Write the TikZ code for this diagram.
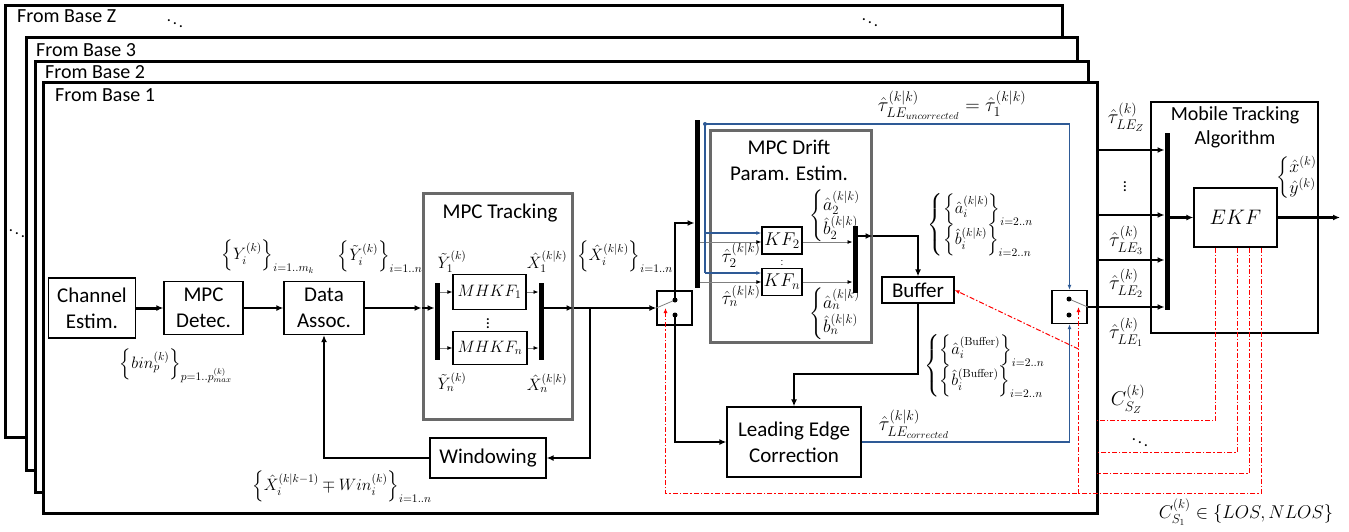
\RequirePackage{fix-cm}
\documentclass[tikz,border=0pt]{standalone}
\usepackage{amsmath}
\usepackage[no-math]{fontspec}
\setmainfont{Carlito}
\usetikzlibrary{arrows.meta}
\definecolor{bluelink}{RGB}{46,90,150}
\definecolor{grpgray}{RGB}{105,105,105}
\newcommand{\framefont}{\fontsize{20}{24}\selectfont}
\newcommand{\blockfont}{\fontsize{21}{26}\selectfont}
\newcommand{\lblfont}{\fontsize{16.5}{19}\selectfont}
\newcommand{\taufont}{\fontsize{20}{23}\selectfont}

\begin{document}
\begin{tikzpicture}[x=1pt, y=-1pt, >={Latex[length=7pt,width=6pt]},
		frame/.style={draw, line width=3pt, fill=white},
		block/.style={draw, line width=1.3pt, fill=white, align=center, font=\blockfont, inner sep=0pt},
		group/.style={draw=grpgray, line width=3pt, inner sep=0pt},
		switchbox/.style={draw, line width=1.3pt, fill=white, minimum width=35pt, minimum height=34pt, inner sep=0pt},
		bus/.style={line width=5pt},
		conn/.style={->, line width=2pt},
		heavy/.style={->, line width=3pt},
		thinarr/.style={-{Latex[length=5pt,width=4pt,color=black]}, line width=0.8pt, draw=gray},
		lever/.style={line width=0.8pt, draw=gray},
		blueline/.style={line width=1.1pt, draw=bluelink},
		bluearr/.style={-{Latex[length=5pt,width=4pt]}, line width=1.1pt, draw=bluelink},
		redline/.style={line width=1pt, draw=red, dash pattern=on 5pt off 2pt on 1.5pt off 2pt},
		redarr/.style={redline, -{Latex[length=5pt,width=4pt]}},
		lbl/.style={font=\lblfont, inner sep=0pt},
		taulbl/.style={font=\taufont, inner sep=0pt}]
		\useasboundingbox (0,0) rectangle (1349,531);
		% stacked frames of the bases
		\draw[frame] (5,5) rectangle (1062,437);
		\draw[frame] (26,37) rectangle (1077,470);
		\draw[frame] (35,61) rectangle (1088,492);
		\draw[frame] (43,82) rectangle (1097,513);
		\node[anchor=west, font=\framefont, inner sep=0pt] (baseZ) at (17,16) {From Base Z};
		\node[anchor=west, font=\framefont, inner sep=0pt] (base3) at (36,50) {From Base 3};
		\node[anchor=west, font=\framefont, inner sep=0pt] (base2) at (45,72) {From Base 2};
		\node[anchor=west, font=\framefont, inner sep=0pt] (base1) at (55,95) {From Base 1};
		\node[lbl] (ddotsA) at (175,21) {$\ddots$};
		\node[lbl] (ddotsB) at (870,20) {$\ddots$};
		\node[lbl] (ddotsC) at (17,231) {$\ddots$};
		%
		\node[block, minimum width=87pt, minimum height=60pt] (chan) at (92,308) {Channel\\Estim.};
		\node[block, minimum width=79pt, minimum height=53pt] (detec) at (203.5,308) {MPC\\Detec.};
		\node[block, minimum width=80pt, minimum height=53pt] (assoc) at (324,308) {Data\\Assoc.};
		\node[block, minimum width=116pt, minimum height=40pt] (win) at (488,458) {Windowing};
		%
		\node[group, minimum width=149pt, minimum height=226pt] (trackgrp) at (497.5,306) {};
		\node[font=\blockfont, inner sep=0pt] (tracktitle) at (500,213) {MPC Tracking};
		\node[block, minimum width=73pt, minimum height=35pt, font=\fontsize{16.5}{20}\selectfont] (mhkf1) at (489.5,292) {$MHKF_1$};
		\node[block, minimum width=74pt, minimum height=33pt, font=\fontsize{16.5}{20}\selectfont] (mhkfn) at (490,348) {$MHKF_n$};
		\node[lbl] (vdotsA) at (488,321) {$\vdots$};
		\coordinate (busAtop) at (437,283);
		\coordinate (busAbot) at (437,360);
		\coordinate (busBtop) at (541,283);
		\coordinate (busBbot) at (541,360);
		\coordinate (busBout) at (541,308);
		\coordinate (winbranch) at (590,308);
		%
		\node[switchbox] (sw1) at (674.5,308) {};
		\coordinate (sw1up) at (675,300);
		\coordinate (sw1dn) at (675,315);
		\coordinate (busCtop) at (697,120);
		\coordinate (busCbot) at (697,288);
		\coordinate (busCin) at (697,223);
		%
		\node[group, minimum width=161pt, minimum height=212pt] (driftgrp) at (790.5,236) {};
		\node[font=\blockfont, align=center, inner sep=0pt] (drifttitle) at (789,160) {MPC Drift\\Param. Estim.};
		\node[block, minimum width=40pt, minimum height=27pt, font=\fontsize{18.5}{22}\selectfont] (kf2) at (782,240.5) {$KF_2$};
		\node[block, minimum width=40pt, minimum height=27pt, font=\fontsize{18.5}{22}\selectfont] (kfn) at (782,282) {$KF_n$};
		\node[inner sep=0pt, font=\fontsize{9}{10}\selectfont] (vdotsB) at (782,262) {$\vdots$};
		\coordinate (busDtop) at (855,226);
		\coordinate (busDbot) at (855,293);
		\coordinate (busDout) at (855,236);
		\coordinate (bluetop) at (705,124);
		%
		\node[block, minimum width=72pt, minimum height=26pt] (buffer) at (918,290) {Buffer};
		\node[block, minimum width=134pt, minimum height=70pt] (lec) at (794,442) {Leading Edge\\Correction};
		\node[switchbox, minimum height=33pt] (sw2) at (1069.5,307) {};
		\coordinate (sw2up) at (1069,299);
		\coordinate (sw2dn) at (1069,315);
		%
		\node[block, minimum width=167pt, minimum height=231pt] (mobile) at (1234.5,217.5) {};
		\node[font=\fontsize{20}{24}\selectfont, align=center, inner sep=0pt] (mobiletitle) at (1235,127) {Mobile Tracking\\Algorithm};
		\node[block, minimum width=83pt, minimum height=59pt, font=\fontsize{21}{26}\selectfont] (ekf) at (1235.5,217.5) {$EKF$};
		\coordinate (busEtop) at (1167,133);
		\coordinate (busEbot) at (1167,310);
		\coordinate (inZ) at (1097,150);
		\coordinate (in3) at (1097,215);
		\coordinate (in2) at (1097,260);
		\coordinate (estout) at (1340,217.5);
		\coordinate (redZ) at (1097,420.5);
		\coordinate (red3) at (1097,452.5);
		\coordinate (red2) at (1097,473.5);
		\coordinate (redbot) at (665.5,493.5);
		\coordinate (redjoin) at (1078.5,493.5);
		\coordinate (redbuf) at (1078.5,349);
		%
		\node[lbl] (lblY) at (268,257) {$\left\{Y_i^{(k)}\right\}_{i=1..m_k}$};
		\node[lbl] (lblYt) at (380,257) {$\left\{\tilde{Y}_i^{(k)}\right\}_{i=1..n}$};
		\node[lbl] (lblbin) at (176,366) {$\left\{bin_p^{(k)}\right\}_{p=1..p_{max}^{(k)}}$};
		\node[lbl] (lblwin) at (342,487) {$\left\{\hat{X}_i^{(k|k-1)} \mp Win_i^{(k)}\right\}_{i=1..n}$};
		\node[lbl] (lblXh) at (625,257) {$\left\{\hat{X}_i^{(k|k)}\right\}_{i=1..n}$};
		\node[lbl] (lblY1) at (452,262) {$\tilde{Y}_1^{(k)}$};
		\node[lbl] (lblYn) at (452,382) {$\tilde{Y}_n^{(k)}$};
		\node[lbl] (lblX1) at (547,262) {$\hat{X}_1^{(k|k)}$};
		\node[lbl] (lblXn) at (547,383) {$\hat{X}_n^{(k|k)}$};
		\node[taulbl, font=\fontsize{19}{22}\selectfont] (lbltau2) at (741,255) {$\hat{\tau}_2^{(k|k)}$};
		\node[taulbl, font=\fontsize{19}{22}\selectfont] (lbltaun) at (741,296) {$\hat{\tau}_n^{(k|k)}$};
		\node[taulbl, font=\fontsize{18}{20}\selectfont] (lblab2) at (835,216) {$\left\{\begin{array}{@{}l@{}}\hat{a}_2^{(k|k)}\\ \hat{b}_2^{(k|k)}\end{array}\right.$};
		\node[taulbl, font=\fontsize{18}{20}\selectfont] (lblabn) at (835,314) {$\left\{\begin{array}{@{}l@{}}\hat{a}_n^{(k|k)}\\ \hat{b}_n^{(k|k)}\end{array}\right.$};
		\node[taulbl] (lbluncorr) at (952,105) {$\hat{\tau}_{LE_{uncorrected}}^{(k|k)} = \hat{\tau}_1^{(k|k)}$};
		\node[taulbl] (lblcorr) at (914,424) {$\hat{\tau}_{LE_{corrected}}^{(k|k)}$};
		\node[lbl] (lblab) at (981,225) {$\left\{\begin{array}{@{}l@{}}\left\{\hat{a}_i^{(k|k)}\right\}_{i=2..n}\\ \left\{\hat{b}_i^{(k|k)}\right\}_{i=2..n}\end{array}\right.$};
		\node[lbl] (lblbuf) at (985,366) {$\left\{\begin{array}{@{}l@{}}\left\{\hat{a}_i^{(\mathrm{Buffer})}\right\}_{i=2..n}\\ \left\{\hat{b}_i^{(\mathrm{Buffer})}\right\}_{i=2..n}\end{array}\right.$};
		\node[taulbl] (lblLEZ) at (1126,117) {$\hat{\tau}_{LE_Z}^{(k)}$};
		\node[lbl] (lblvd) at (1125,184) {$\vdots$};
		\node[taulbl] (lblLE3) at (1126,240) {$\hat{\tau}_{LE_3}^{(k)}$};
		\node[taulbl] (lblLE2) at (1126,283) {$\hat{\tau}_{LE_2}^{(k)}$};
		\node[taulbl] (lblLE1) at (1126,332) {$\hat{\tau}_{LE_1}^{(k)}$};
		\node[taulbl, font=\fontsize{18}{20}\selectfont] (lblxy) at (1297,178) {$\left\{\begin{array}{@{}l@{}}\hat{x}^{(k)}\\ \hat{y}^{(k)}\end{array}\right.$};
		\node[taulbl] (lblCZ) at (1128,399) {$C_{S_Z}^{(k)}$};
		\node[lbl] (lbldd) at (1140,440) {$\ddots$};
		\node[taulbl, font=\fontsize{18.5}{22}\selectfont] (lblC1) at (1246,512) {$C_{S_1}^{(k)} \in \{LOS, NLOS\}$};
		%
		\draw[heavy] (chan) to (detec);
		\draw[conn] (detec) to (assoc);
		\draw[conn] (assoc.east) to (assoc.east -| trackgrp.west);
		\draw[conn, shorten >=2.5pt] (assoc.east -| trackgrp.west) to (assoc.east -| busAtop);
		\draw[thinarr] (mhkf1.west -| busAtop) to (mhkf1.west);
		\draw[thinarr] (mhkfn.west -| busAtop) to (mhkfn.west);
		\draw[thinarr, shorten >=2.5pt] (mhkf1.east) to (mhkf1.east -| busBtop);
		\draw[thinarr, shorten >=2.5pt] (mhkfn.east) to (mhkfn.east -| busBtop);
		\draw[conn] (busBout) to (busBout -| trackgrp.east);
		\draw[conn] (busBout -| trackgrp.east) to (sw1.west);
		\draw[conn] (winbranch) |- (win.east);
		\draw[conn] (win.west) -| (assoc.south);
		%
		\draw[lever] (sw1.west) to (sw1up);
		\draw[conn, shorten >=2.5pt] (sw1up) |- (busCin);
		\draw[conn] (sw1dn) |- (lec.west);
		\draw[thinarr] ([yshift=-1.5pt]kf2.west -| busCtop) to ([yshift=-1.5pt]kf2.west);
		\draw[thinarr] (kfn.west -| busCtop) to (kfn.west);
		\draw[thinarr, shorten >=2.5pt] ([yshift=-1.5pt]kf2.east) to ([yshift=-1.5pt]kf2.east -| busDtop);
		\draw[thinarr, shorten >=2.5pt] (kfn.east) to (kfn.east -| busDtop);
		\draw[blueline] (bluetop) to ([yshift=9pt]kfn.west -| bluetop);
		\draw[bluearr] ([yshift=7.5pt]kf2.west -| bluetop) to ([yshift=7.5pt]kf2.west);
		\draw[bluearr] ([yshift=9pt]kfn.west -| bluetop) to ([yshift=9pt]kfn.west);
		\draw[bluearr] (bluetop) -| (sw2.north);
		\fill[bluelink] (bluetop) circle (2pt);
		\draw[conn] (busDout) to (busDout -| driftgrp.east);
		\draw[conn] (busDout -| driftgrp.east) -| (buffer.north);
		\draw[conn] (buffer.south) |- ++(0,70) -| (lec.north);
		\draw[bluearr] (lec.east) -| (sw2.south);
		\draw[lever] (sw2up) to (sw2.east);
		%
		\draw[conn, shorten >=2.5pt] (sw2.east) to (sw2.east -| busEtop);
		\draw[conn, shorten >=2.5pt] (inZ) to (inZ -| busEtop);
		\draw[conn, shorten >=2.5pt] (in3) to (in3 -| busEtop);
		\draw[conn, shorten >=2.5pt] (in2) to (in2 -| busEtop);
		\draw[heavy] (ekf.west -| busEtop) to (ekf.west);
		\draw[heavy] (ekf.east) to (estout);
		%
		\draw[redline] ([xshift=-20pt]ekf.south) |- (redZ);
		\draw[redline] ([xshift=2pt]ekf.south) |- (red3);
		\draw[redline] ([xshift=14pt]ekf.south) |- (red2);
		\draw[redarr] ([xshift=26pt]ekf.south) |- (redbot) to (redbot |- sw1.center);
		\draw[redarr] (redjoin) to (redjoin |- sw2.center);
		\draw[redarr] (redbuf) to (buffer.east);
		%
		\draw[bus] (busAtop) to (busAbot);
		\draw[bus] (busBtop) to (busBbot);
		\draw[bus] (busCtop) to (busCbot);
		\draw[bus] (busDtop) to (busDbot);
		\draw[bus] (busEtop) to (busEbot);
		\fill (sw1up) circle (2.5pt);
		\fill (sw1dn) circle (2.5pt);
		\fill (sw2up) circle (2.5pt);
		\fill (sw2dn) circle (2.5pt);
\end{tikzpicture}
\end{document}
